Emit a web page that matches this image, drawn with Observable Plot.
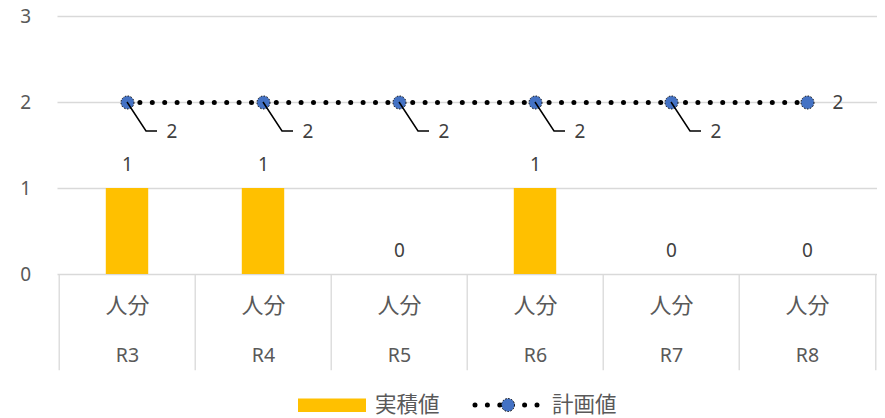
<!DOCTYPE html>
<html><head><meta charset="utf-8">
<script src="https://cdn.jsdelivr.net/npm/d3@7"></script>
<script src="https://cdn.jsdelivr.net/npm/@observablehq/plot@0.6"></script>
<style>
body{margin:0;background:#fff;}
#chart svg{display:block;}
</style></head><body><div id="chart"></div><script>
const years = ["R3","R4","R5","R6","R7","R8"];
const unit = "人分";
const actual = [1,1,0,1,0,0];
const plan = [2,2,2,2,2,2];
const yTicks = [0,1,2,3];
const seriesNames = ["実積値","計画値"];

const data = years.map((y,i)=>({year:y, actual:actual[i], plan:plan[i], last:i===years.length-1}));
const FONT = "'Noto Sans','Noto Sans CJK JP',sans-serif";
const W = 885, H = 386, ML = 57.5, MR = 8;
const bw = (W - ML - MR) / years.length;

function leaders(index, scales) {
  const g = d3.create("svg:g").attr("stroke","#000").attr("stroke-width",1.5).attr("fill","none");
  const step = scales.x(years[1]) - scales.x(years[0]);
  data.filter(d=>!d.last).forEach(d=>{
    const cx = scales.x(d.year) + step/2, cy = scales.y(d.plan);
    g.append("path").attr("d", `M${cx},${cy}L${cx+19},${cy+29}H${cx+30}`);
  });
  return g.node();
}

const chart = Plot.plot({
  width:W, height:H, marginLeft:ML, marginRight:MR, marginTop:16, marginBottom:112,
  style:{fontFamily:FONT, fontSize:"19px", color:"#595959", background:"#fff", overflow:"visible"},
  x:{domain:years, padding:0, axis:null, label:null},
  y:{domain:[0,3], axis:null, label:null},
  marks:[
    Plot.ruleY(yTicks,{y:d=>d, stroke:"#d9d9d9", strokeWidth:1.3}),
    Plot.ruleX(years,{x:d=>d, dx:-bw/2, y1:0, y2:-1.12, stroke:"#d9d9d9", strokeWidth:1.3}),
    Plot.ruleX([years[years.length-1]],{x:d=>d, dx:bw/2, y1:0, y2:-1.12, stroke:"#d9d9d9", strokeWidth:1.3}),
    Plot.axisY(yTicks,{tickSize:0, tickPadding:27, fontSize:19, fill:"#595959", tickFormat:d=>String(d), label:null}),
    Plot.axisX(years,{tickSize:0, tickPadding:23, fontSize:22, fill:"#595959", tickFormat:()=>unit, label:null}),
    Plot.axisX(years,{tickSize:0, tickPadding:74, fontSize:19.5, fill:"#595959", tickFormat:d=>d, label:null}),
    Plot.barY(data,{x:"year", y:"actual", fill:"#FFC000", insetLeft:(bw-43)/2, insetRight:(bw-43)/2}),
    Plot.text(data,{x:"year", y:"actual", text:d=>String(d.actual), dy:-24, fill:"#404040", fontSize:19}),
    Plot.line(data,{x:"year", y:"plan", stroke:"#000", strokeWidth:5, strokeDasharray:"0 12.4", strokeLinecap:"round"}),
    Plot.dot(data,{x:"year", y:"plan", r:6.5, fill:"#4472C4", stroke:"#000", strokeWidth:1, strokeDasharray:"1.5 1.5"}),
    leaders,
    Plot.text(data.filter(d=>!d.last),{x:"year", y:"plan", text:d=>String(d.plan), dx:39, dy:29, textAnchor:"start", fill:"#404040", fontSize:19}),
    Plot.text(data.filter(d=>d.last),{x:"year", y:"plan", text:d=>String(d.plan), dx:25, textAnchor:"start", fill:"#404040", fontSize:19})
  ]
});
document.getElementById("chart").appendChild(chart);

// legend
const lg = d3.select("#chart").append("svg").attr("width",W).attr("height",32)
  .style("font-family",FONT).style("font-size","21.5px").attr("fill","#595959");
lg.append("rect").attr("x",298).attr("y",12.5).attr("width",68).attr("height",13.5).attr("fill","#FFC000");
lg.append("text").attr("x",375).attr("y",18).attr("dy","0.36em").text(seriesNames[0]);
lg.append("line").attr("x1",475).attr("x2",545).attr("y1",19).attr("y2",19)
  .attr("stroke","#000").attr("stroke-width",5).attr("stroke-linecap","round").attr("stroke-dasharray","0 12.4");
lg.append("circle").attr("cx",508).attr("cy",19).attr("r",6.5).attr("fill","#4472C4")
  .attr("stroke","#000").attr("stroke-width",1).attr("stroke-dasharray","1.5 1.5");
lg.append("text").attr("x",552).attr("y",18).attr("dy","0.36em").text(seriesNames[1]);
</script></body></html>
